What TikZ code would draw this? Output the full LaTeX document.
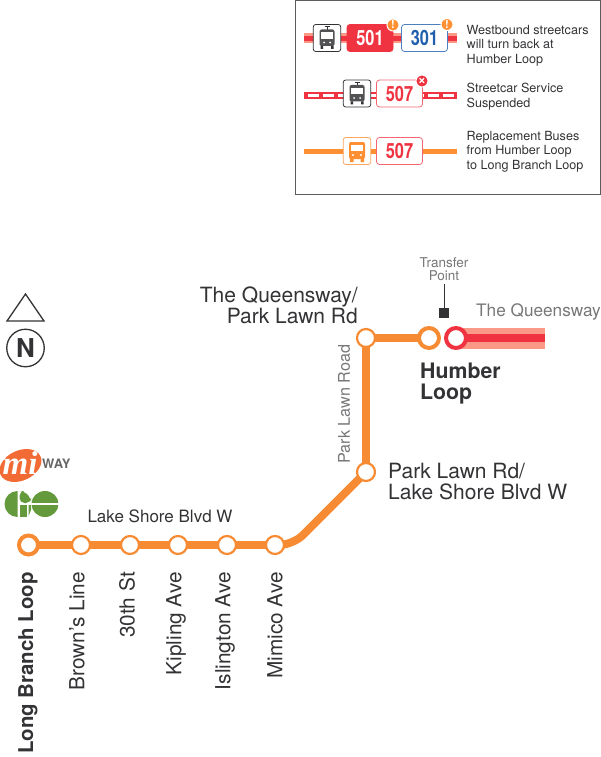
\documentclass[tikz,border=0pt]{standalone}
\usepackage{fontspec}
\setmainfont{TeX Gyre Heros}
\newfontfamily\routefont[FakeStretch=0.78]{TeX Gyre Heros}
\newfontfamily\mifont{Liberation Serif}
\usetikzlibrary{shapes.geometric,backgrounds}
\definecolor{lineorange}{HTML}{F68B33}
\definecolor{busorange}{HTML}{FF8F33}
\definecolor{linered}{HTML}{EF3340}
\definecolor{bandred}{HTML}{FA9A86}
\definecolor{routeblue}{HTML}{1F5FAD}
\definecolor{labelgray}{HTML}{77777A}
\definecolor{inkgray}{HTML}{333336}
\definecolor{goGreen}{HTML}{649A3C}
\definecolor{miorange}{HTML}{F26B35}
\tikzset{
  stopnode/.style={circle,draw=lineorange,fill=white,line width=2.2pt,minimum size=18pt,inner sep=0pt},
  loopnode/.style={circle,fill=white,line width=4pt,minimum size=20pt,inner sep=0pt},
  transitline/.style={draw=lineorange,line width=8pt},
  stoplabel/.style={rotate=90,anchor=east,font=\fontsize{20.8}{22}\selectfont,text=inkgray,inner sep=0pt},
  maplabel/.style={font=\fontsize{21}{21}\selectfont,text=inkgray,inner sep=0pt},
  legendtext/.style={anchor=west,align=left,inner sep=0pt,text=inkgray,font=\fontsize{12.6}{14.7}\selectfont},
  iconbox/.style={draw=#1,fill=white,line width=0.8pt,rounded corners=2.5pt,minimum width=27.5pt,minimum height=27pt,inner sep=0pt},
  routebox/.style={draw=#1,fill=white,line width=0.8pt,rounded corners=3pt,minimum width=46pt,minimum height=27pt,inner sep=0pt,font=\routefont\bfseries\fontsize{21}{21}\selectfont},
  badge/.style={circle,fill=#1,draw=white,line width=1pt,minimum size=12pt,inner sep=0pt,text=white,font=\bfseries\fontsize{11}{11}\selectfont},
  tramicon/.pic={
    \draw[inkgray,line width=0.7pt] (0,-11.5) -- (0,-8) (-2.5,-11.5) -- (2.5,-11.5);
    \fill[inkgray!85,rounded corners=2pt] (-7.5,-8.5) rectangle (7.5,8);
    \fill[white] (-6,-5.5) rectangle (6,1);
    \fill[white] (-3,4.5) circle (1) (3,4.5) circle (1);
    \fill[inkgray] (-6.5,8) rectangle (-4,11) (4,8) rectangle (6.5,11);
  },
  busicon/.pic={
    \fill[busorange,rounded corners=2pt] (-8,-9) rectangle (8,8);
    \fill[white] (-6,-6) rectangle (6,0);
    \fill[white] (-4,4) circle (1.1) (4,4) circle (1.1);
    \fill[busorange] (-7,7) rectangle (-3.5,11) (3.5,7) rectangle (7,11);
  },
}
\begin{document}
\begin{tikzpicture}[x=1pt,y=-1pt]
  \useasboundingbox (0,0) rectangle (601,757);
  % legend
  \node[draw=inkgray!80,line width=0.8pt,minimum width=305pt,minimum height=193.5pt,inner sep=0pt] (legendbox) at (447.5,97.2) {};
  \coordinate (rowAleft) at (304,38.5);
  \coordinate (rowAright) at (457,38.5);
  \coordinate (rowBleft) at (304,96);
  \coordinate (rowBright) at (457,96);
  \coordinate (rowCleft) at (304,151);
  \coordinate (rowCright) at (457,151);
  \draw[bandred,line width=10pt] (rowAleft) -- (rowAright);
  \draw[linered,line width=4.5pt] (rowAleft) -- (rowAright);
  \draw[linered,line width=7pt] (rowBleft) -- (rowBright);
  \draw[white,line width=3pt,dash pattern=on 11pt off 4pt,dash phase=11pt] (rowBleft) -- (rowBright);
  \draw[busorange,line width=5pt] (rowCleft) -- (rowCright);
  \node[iconbox=inkgray] (tramA) at (327,38) {};
  \node[routebox=linered,fill=linered,text=white] (routeA) at (370,38) {501};
  \node[routebox=routeblue!80,text=routeblue] (routeB) at (424.5,38) {301};
  \node[badge=busorange] (alertA) at (393,25) {!};
  \node[badge=busorange] (alertB) at (447,24.5) {!};
  \node[iconbox=inkgray] (tramB) at (357,93.5) {};
  \node[routebox=linered!75,text=linered] (routeC) at (399.5,93.5) {507};
  \node[badge=linered,font=\bfseries\fontsize{14}{14}\selectfont] (alertC) at (422,81) {×};
  \node[iconbox=busorange!80] (busA) at (357,151) {};
  \node[routebox=linered!75,text=linered] (routeD) at (399.5,151) {507};
  \pic at (tramA) {tramicon};
  \pic at (tramB) {tramicon};
  \pic at (busA) {busicon};
  \node[legendtext] (textA) at (466.5,45.5) {Westbound streetcars\\will turn back at\\Humber Loop};
  \node[legendtext] (textB) at (466.5,96.5) {Streetcar Service\\Suspended};
  \node[legendtext] (textC) at (466.5,151.5) {Replacement Buses\\from Humber Loop\\to Long Branch Loop};
  % route
  \coordinate (bend) at (293,545);
  \coordinate (bandend) at (545,338);
  \node[stopnode,line width=4pt,minimum size=19pt] (longbranch) at (28.5,545) {};
  \node[stopnode] (browns) at (81,545) {};
  \node[stopnode] (thirtieth) at (130,545) {};
  \node[stopnode] (kipling) at (178,545) {};
  \node[stopnode] (islington) at (227,545) {};
  \node[stopnode] (mimico) at (275,545) {};
  \node[stopnode] (parklawn) at (366,472) {};
  \node[stopnode] (queensway) at (366,338) {};
  \node[loopnode,draw=lineorange] (humber) at (429,338) {};
  \node[loopnode,draw=linered] (humberred) at (456,338) {};
  \begin{scope}[on background layer]
    \draw[transitline] (longbranch.center) -- (browns.center);
    \draw[transitline] (browns.center) -- (thirtieth.center);
    \draw[transitline] (thirtieth.center) -- (kipling.center);
    \draw[transitline] (kipling.center) -- (islington.center);
    \draw[transitline] (islington.center) -- (mimico.center);
    \draw[transitline,rounded corners=14pt] (mimico.center) -- (bend) -- (parklawn.center);
    \draw[transitline] (parklawn.center) -- (queensway.center);
    \draw[transitline] (queensway.center) -- (humber.center);
    \draw[bandred,line width=21pt] (humberred.center) -- (bandend);
    \draw[linered,line width=8pt] (humberred.center) -- (bandend);
  \end{scope}
  % transfer point
  \node[fill=inkgray,minimum size=10pt,inner sep=0pt] (transfer) at (444,313) {};
  \coordinate (transfertop) at (444,284);
  \draw[inkgray,line width=1pt] (transfer) -- (transfertop);
  \node[align=center,inner sep=0pt,text=labelgray,font=\fontsize{13.5}{13.5}\selectfont] (transferlabel) at (444,269) {Transfer\\Point};
  % labels
  \node[maplabel,anchor=east,align=right] (queenswaylabel) at (358,305.5) {The Queensway/\\Park Lawn Rd};
  \node[anchor=west,inner sep=0pt,text=labelgray,font=\fontsize{17.2}{19}\selectfont] (streetlabel) at (476,312) {The Queensway};
  \node[maplabel,anchor=west,align=left,font=\bfseries\fontsize{21.3}{21}\selectfont] (humberlabel) at (420,384) {Humber\\Loop};
  \node[rotate=90,inner sep=0pt,text=labelgray,font=\fontsize{16.2}{17}\selectfont] (roadlabel) at (344,404) {Park Lawn Road};
  \node[maplabel,anchor=west,align=left] (parklawnlabel) at (388,482) {Park Lawn Rd/\\Lake Shore Blvd W};
  \node[inner sep=0pt,text=inkgray,font=\fontsize{17}{17}\selectfont] (shorelabel) at (160,516.5) {Lake Shore Blvd W};
  \node[stoplabel,font=\bfseries\fontsize{20.4}{21}\selectfont] (longbranchlabel) at (28,572) {Long Branch Loop};
  \node[stoplabel] (brownslabel) at (77,572) {Brown's Line};
  \node[stoplabel] (thirtiethlabel) at (127,572) {30th St};
  \node[stoplabel] (kiplinglabel) at (176,572) {Kipling Ave};
  \node[stoplabel] (islingtonlabel) at (225,572) {Islington Ave};
  \node[stoplabel] (mimicolabel) at (275,572) {Mimico Ave};
  % north arrow
  \draw[inkgray,line width=1.3pt] (25.5,294) -- (44,321) -- (7,321) -- cycle;
  \node[circle,draw=inkgray,line width=1.3pt,minimum size=37.5pt,inner sep=0pt,text=inkgray,font=\bfseries\fontsize{26}{26}\selectfont] (north) at (25.5,348) {N};
  % agencies
  \node[ellipse,fill=miorange,rotate=25,minimum width=44pt,minimum height=30pt,inner sep=0pt] (miway) at (20.5,465.5) {};
  \node[text=white,inner sep=0pt,font=\mifont\bfseries\itshape\fontsize{33}{33}\selectfont] (milabel) at (20,463) {mi};
  \node[anchor=west,inner sep=0pt,text=labelgray!85!black,font=\bfseries\fontsize{13}{13}\selectfont] (waylabel) at (42,463.5) {WAY};
  \fill[goGreen] (17.5,491) arc[start angle=-90,end angle=-270,radius=13] -- cycle;
  \fill[goGreen,rounded corners=5pt] (19.5,503) -- (19.5,491) -- (24,491) -- (31,498) -- (31,503) -- cycle;
  \fill[goGreen] (19.5,505) rectangle (27,517);
  \fill[goGreen] (28.5,505) -- (31,505) -- (31,510) -- (28.5,516) -- cycle;
  \fill[goGreen] (45,504) ellipse (13.5 and 13);
  \fill[white] (31,503.2) rectangle (60,504.8);
\end{tikzpicture}
\end{document}
